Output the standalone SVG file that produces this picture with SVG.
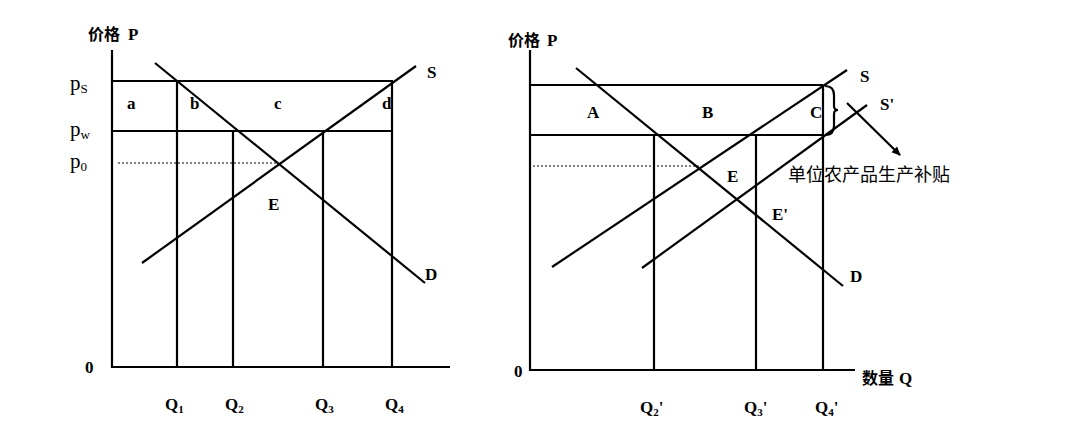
<svg xmlns="http://www.w3.org/2000/svg" width="1082" height="438" viewBox="0 0 1082 438">
<style>
.l{stroke:#000;stroke-width:2.2;fill:none}
.dot{stroke:#000;stroke-width:1;stroke-dasharray:2 2;fill:none}
text{font-family:"Liberation Serif","Noto Sans CJK SC",serif;font-size:17px;fill:#000;font-weight:bold}
.p{font-weight:normal;font-size:21px}
.cn{font-family:"Noto Sans CJK SC",sans-serif;font-size:16px;font-weight:bold}
.cn2{font-family:"Noto Sans CJK SC",sans-serif;font-size:18px;font-weight:normal}
</style>
<defs><marker id="ar" markerWidth="10" markerHeight="10" refX="8" refY="5" orient="auto" markerUnits="userSpaceOnUse"><path d="M0,1 L9,5 L0,9 Z" fill="#000"/></marker></defs>
<rect width="1082" height="438" fill="#fff"/>
<g id="left">
<path class="l" d="M112,50 V367 H450"/>
<path class="l" d="M112,81 H393 M112,131 H393"/>
<path class="dot" d="M118,163 H277"/>
<path class="l" d="M177,81 V367 M233,131 V367 M323,131 V367 M392,81 V367"/>
<path class="l" d="M155,63 L425,283"/>
<path class="l" d="M142,263 L416,66"/>
<text class="cn" x="88" y="40">价格</text><text x="128" y="40">P</text>
<text class="p" x="70" y="90">p<tspan font-size="13" dy="3">S</tspan></text>
<text class="p" x="70" y="136">p<tspan font-size="13" dy="3">w</tspan></text>
<text class="p" x="70" y="168">p<tspan font-size="13" dy="3">0</tspan></text>
<text x="127" y="109">a</text><text x="190" y="109">b</text><text x="274" y="109">c</text><text x="382" y="109">d</text>
<text x="268" y="210">E</text><text x="427" y="78">S</text><text x="425" y="280">D</text>
<text x="85" y="373">0</text>
<text x="165" y="410">Q<tspan font-size="11" dy="3">1</tspan></text>
<text x="225" y="410">Q<tspan font-size="11" dy="3">2</tspan></text>
<text x="315" y="410">Q<tspan font-size="11" dy="3">3</tspan></text>
<text x="385" y="410">Q<tspan font-size="11" dy="3">4</tspan></text>
</g>
<g id="right">
<path class="l" d="M530,50 V370 H855"/>
<path class="l" d="M530,85 H823 M530,135 H823"/>
<path class="dot" d="M533,166 H700"/>
<path class="l" d="M654,135 V370 M756,135 V370 M823,85 V370"/>
<path class="l" d="M576,68 L843,286"/>
<path class="l" d="M552,267 L847,70"/>
<path class="l" d="M642,268 L867,105"/>
<path class="l" stroke-width="1.6" d="M825,86 Q834,86 834,95 V106 Q834,110 838,110 Q834,110 834,114 V126 Q834,135 825,135"/>
<text class="cn" x="508" y="46">价格</text><text x="547" y="46">P</text>
<text x="587" y="118">A</text><text x="702" y="118">B</text><text x="810" y="118">C</text>
<text x="860" y="82">S</text><text x="880" y="110">S'</text>
<text x="727" y="182">E</text><text x="772" y="220">E'</text><text x="850" y="282">D</text>
<text class="cn2" x="788" y="181">单位农产品生产补贴</text>
<text x="514" y="377">0</text>
<text class="cn" x="862" y="384">数量</text><text x="899" y="384">Q</text>
<text x="640" y="413">Q<tspan font-size="11" dy="3">2</tspan><tspan dy="-3">'</tspan></text>
<text x="744" y="413">Q<tspan font-size="11" dy="3">3</tspan><tspan dy="-3">'</tspan></text>
<text x="815" y="413">Q<tspan font-size="11" dy="3">4</tspan><tspan dy="-3">'</tspan></text>
</g>
<g id="connectors">
<path class="l" stroke-width="1.8" d="M847,103 L900,155" marker-end="url(#ar)"/>
</g>
</svg>
